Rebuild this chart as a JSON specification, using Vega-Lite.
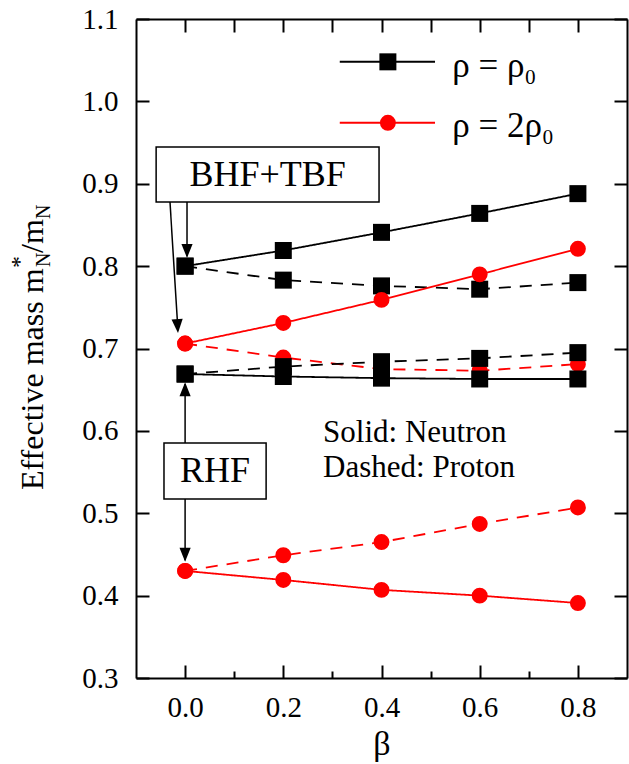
{
  "$schema": "https://vega.github.io/schema/vega-lite/v6.json",
  "width": 491,
  "height": 659,
  "autosize": "none",
  "padding": {"left": 136, "top": 19, "right": 2, "bottom": 86},
  "background": "white",
  "config": {"view": {"stroke": null}, "font": "Liberation Serif",
    "axis": {"grid": false, "tickColor": "black", "tickWidth": 2, "domainColor": "black", "domainWidth": 2, "title": null}},
  "data": {"values": [
    {"s": "BHF_rho0_n", "dens": "rho0", "part": "Neutron", "beta": 0.0, "m": 0.800},
    {"s": "BHF_rho0_n", "dens": "rho0", "part": "Neutron", "beta": 0.2, "m": 0.819},
    {"s": "BHF_rho0_n", "dens": "rho0", "part": "Neutron", "beta": 0.4, "m": 0.841},
    {"s": "BHF_rho0_n", "dens": "rho0", "part": "Neutron", "beta": 0.6, "m": 0.864},
    {"s": "BHF_rho0_n", "dens": "rho0", "part": "Neutron", "beta": 0.8, "m": 0.888},
    {"s": "BHF_rho0_p", "dens": "rho0", "part": "Proton", "beta": 0.0, "m": 0.800},
    {"s": "BHF_rho0_p", "dens": "rho0", "part": "Proton", "beta": 0.2, "m": 0.783},
    {"s": "BHF_rho0_p", "dens": "rho0", "part": "Proton", "beta": 0.4, "m": 0.776},
    {"s": "BHF_rho0_p", "dens": "rho0", "part": "Proton", "beta": 0.6, "m": 0.772},
    {"s": "BHF_rho0_p", "dens": "rho0", "part": "Proton", "beta": 0.8, "m": 0.780},
    {"s": "BHF_2rho0_n", "dens": "2rho0", "part": "Neutron", "beta": 0.0, "m": 0.706},
    {"s": "BHF_2rho0_n", "dens": "2rho0", "part": "Neutron", "beta": 0.2, "m": 0.731},
    {"s": "BHF_2rho0_n", "dens": "2rho0", "part": "Neutron", "beta": 0.4, "m": 0.759},
    {"s": "BHF_2rho0_n", "dens": "2rho0", "part": "Neutron", "beta": 0.6, "m": 0.790},
    {"s": "BHF_2rho0_n", "dens": "2rho0", "part": "Neutron", "beta": 0.8, "m": 0.821},
    {"s": "BHF_2rho0_p", "dens": "2rho0", "part": "Proton", "beta": 0.0, "m": 0.706},
    {"s": "BHF_2rho0_p", "dens": "2rho0", "part": "Proton", "beta": 0.2, "m": 0.689},
    {"s": "BHF_2rho0_p", "dens": "2rho0", "part": "Proton", "beta": 0.4, "m": 0.675},
    {"s": "BHF_2rho0_p", "dens": "2rho0", "part": "Proton", "beta": 0.6, "m": 0.673},
    {"s": "BHF_2rho0_p", "dens": "2rho0", "part": "Proton", "beta": 0.8, "m": 0.681},
    {"s": "RHF_rho0_n", "dens": "rho0", "part": "Neutron", "beta": 0.0, "m": 0.669},
    {"s": "RHF_rho0_n", "dens": "rho0", "part": "Neutron", "beta": 0.2, "m": 0.666},
    {"s": "RHF_rho0_n", "dens": "rho0", "part": "Neutron", "beta": 0.4, "m": 0.664},
    {"s": "RHF_rho0_n", "dens": "rho0", "part": "Neutron", "beta": 0.6, "m": 0.663},
    {"s": "RHF_rho0_n", "dens": "rho0", "part": "Neutron", "beta": 0.8, "m": 0.663},
    {"s": "RHF_rho0_p", "dens": "rho0", "part": "Proton", "beta": 0.0, "m": 0.669},
    {"s": "RHF_rho0_p", "dens": "rho0", "part": "Proton", "beta": 0.2, "m": 0.678},
    {"s": "RHF_rho0_p", "dens": "rho0", "part": "Proton", "beta": 0.4, "m": 0.684},
    {"s": "RHF_rho0_p", "dens": "rho0", "part": "Proton", "beta": 0.6, "m": 0.688},
    {"s": "RHF_rho0_p", "dens": "rho0", "part": "Proton", "beta": 0.8, "m": 0.695},
    {"s": "RHF_2rho0_n", "dens": "2rho0", "part": "Neutron", "beta": 0.0, "m": 0.430},
    {"s": "RHF_2rho0_n", "dens": "2rho0", "part": "Neutron", "beta": 0.2, "m": 0.419},
    {"s": "RHF_2rho0_n", "dens": "2rho0", "part": "Neutron", "beta": 0.4, "m": 0.407},
    {"s": "RHF_2rho0_n", "dens": "2rho0", "part": "Neutron", "beta": 0.6, "m": 0.400},
    {"s": "RHF_2rho0_n", "dens": "2rho0", "part": "Neutron", "beta": 0.8, "m": 0.391},
    {"s": "RHF_2rho0_p", "dens": "2rho0", "part": "Proton", "beta": 0.0, "m": 0.430},
    {"s": "RHF_2rho0_p", "dens": "2rho0", "part": "Proton", "beta": 0.2, "m": 0.449},
    {"s": "RHF_2rho0_p", "dens": "2rho0", "part": "Proton", "beta": 0.4, "m": 0.465},
    {"s": "RHF_2rho0_p", "dens": "2rho0", "part": "Proton", "beta": 0.6, "m": 0.487},
    {"s": "RHF_2rho0_p", "dens": "2rho0", "part": "Proton", "beta": 0.8, "m": 0.507}
  ]},
  "resolve": {"axis": {"x": "independent", "y": "independent"}},
  "layer": [
    {
      "mark": {"type": "line", "strokeWidth": 1.8},
      "encoding": {
        "x": {"field": "beta", "type": "quantitative",
          "scale": {"domain": [-0.1, 0.9], "nice": false, "zero": false},
          "axis": {"orient": "bottom", "values": [0, 0.2, 0.4, 0.6, 0.8], "format": ".1f", "tickSize": -13,
            "labelPadding": 28, "labelFont": "Liberation Serif", "labelFontSize": 29, "labelColor": "black",
            "title": "β", "titleFont": "Liberation Serif", "titleFontSize": 34, "titleFontWeight": "normal",
            "titleColor": "black", "titlePadding": 5}},
        "y": {"field": "m", "type": "quantitative",
          "scale": {"domain": [0.3, 1.1], "nice": false, "zero": false},
          "axis": {"orient": "left", "values": [0.3, 0.4, 0.5, 0.6, 0.7, 0.8, 0.9, 1.0, 1.1], "format": ".1f", "tickSize": -13,
            "labelPadding": 31, "labelFont": "Liberation Serif", "labelFontSize": 29, "labelColor": "black"}},
        "color": {"field": "dens", "type": "nominal", "scale": {"domain": ["rho0", "2rho0"], "range": ["black", "#ff0000"]}, "legend": null},
        "strokeDash": {"field": "part", "type": "nominal", "scale": {"domain": ["Neutron", "Proton"], "range": [[1, 0], [12, 9]]}, "legend": null},
        "detail": {"field": "s"}
      }
    },
    {
      "mark": {"type": "point", "filled": true, "opacity": 1},
      "encoding": {
        "x": {"field": "beta", "type": "quantitative",
          "axis": {"orient": "top", "values": [0, 0.1, 0.2, 0.3, 0.4, 0.5, 0.6, 0.7, 0.8], "tickSize": -13, "labels": false}},
        "y": {"field": "m", "type": "quantitative",
          "axis": {"orient": "right", "values": [0.3, 0.4, 0.5, 0.6, 0.7, 0.8, 0.9, 1.0, 1.1], "tickSize": -13, "labels": false}},
        "color": {"field": "dens", "type": "nominal", "legend": null},
        "shape": {"field": "dens", "type": "nominal", "scale": {"domain": ["rho0", "2rho0"], "range": ["square", "circle"]}, "legend": null},
        "size": {"field": "dens", "type": "nominal", "scale": {"domain": ["rho0", "2rho0"], "range": [289, 254]}, "legend": null}
      }
    },
    {
      "data": {"values": [{}]},
      "mark": {"type": "rule", "color": "black", "strokeWidth": 2},
      "encoding": {
        "x": {"datum": 0.315, "type": "quantitative",
          "axis": {"orient": "bottom", "offset": -7, "tickSize": 7, "values": [0.1, 0.3, 0.5, 0.7], "domain": false, "labels": false}},
        "x2": {"datum": 0.509},
        "y": {"datum": 1.048, "type": "quantitative", "axis": null}}
    },
    {
      "data": {"values": [{}]},
      "mark": {"type": "rule", "color": "#ff0000", "strokeWidth": 2},
      "encoding": {"x": {"datum": 0.315, "type": "quantitative", "axis": null}, "x2": {"datum": 0.509}, "y": {"datum": 0.974, "type": "quantitative", "axis": null}}
    },
    {
      "data": {"values": [{}]},
      "mark": {"type": "point", "shape": "square", "filled": true, "opacity": 1, "color": "black", "size": 289},
      "encoding": {"x": {"datum": 0.413, "type": "quantitative", "axis": null}, "y": {"datum": 1.048, "type": "quantitative", "axis": null}}
    },
    {
      "data": {"values": [{}]},
      "mark": {"type": "point", "shape": "circle", "filled": true, "opacity": 1, "color": "#ff0000", "size": 254},
      "encoding": {"x": {"datum": 0.413, "type": "quantitative", "axis": null}, "y": {"datum": 0.974, "type": "quantitative", "axis": null}}
    },
    {
      "data": {"values": [{}]},
      "mark": {"type": "text", "text": "ρ = ρ₀", "align": "left", "baseline": "alphabetic", "font": "Liberation Serif", "fontSize": 35, "color": "black"},
      "encoding": {"x": {"datum": 0.544, "type": "quantitative", "axis": null}, "y": {"datum": 1.0296, "type": "quantitative", "axis": null}}
    },
    {
      "data": {"values": [{}]},
      "mark": {"type": "text", "text": "ρ = 2ρ₀", "align": "left", "baseline": "alphabetic", "font": "Liberation Serif", "fontSize": 35, "color": "black"},
      "encoding": {"x": {"datum": 0.544, "type": "quantitative", "axis": null}, "y": {"datum": 0.957, "type": "quantitative", "axis": null}}
    },
    {
      "data": {"values": [{}]},
      "mark": {"type": "rect", "fill": "white", "stroke": "black", "strokeWidth": 1.5},
      "encoding": {"x": {"datum": -0.059, "type": "quantitative", "axis": null}, "x2": {"datum": 0.395}, "y": {"datum": 0.9446, "type": "quantitative", "axis": null}, "y2": {"datum": 0.8778}}
    },
    {
      "data": {"values": [{}]},
      "mark": {"type": "text", "text": "BHF+TBF", "align": "center", "baseline": "middle", "font": "Liberation Serif", "fontSize": 36, "color": "black"},
      "encoding": {"x": {"datum": 0.168, "type": "quantitative", "axis": null}, "y": {"datum": 0.911, "type": "quantitative", "axis": null}}
    },
    {
      "data": {"values": [{}]},
      "mark": {"type": "rect", "fill": "white", "stroke": "black", "strokeWidth": 1.5},
      "encoding": {"x": {"datum": -0.043, "type": "quantitative", "axis": null}, "x2": {"datum": 0.165}, "y": {"datum": 0.5853, "type": "quantitative", "axis": null}, "y2": {"datum": 0.5173}}
    },
    {
      "data": {"values": [{}]},
      "mark": {"type": "text", "text": "RHF", "align": "center", "baseline": "middle", "font": "Liberation Serif", "fontSize": 36, "color": "black"},
      "encoding": {"x": {"datum": 0.061, "type": "quantitative", "axis": null}, "y": {"datum": 0.5513, "type": "quantitative", "axis": null}}
    },
    {
      "data": {"values": [{}]},
      "mark": {"type": "rule", "color": "black", "strokeWidth": 1.5},
      "encoding": {"x": {"datum": -0.0308, "type": "quantitative", "axis": null}, "x2": {"datum": -0.0145}, "y": {"datum": 0.8778, "type": "quantitative", "axis": null}, "y2": {"datum": 0.722}}
    },
    {
      "data": {"values": [{}]},
      "mark": {"type": "point", "shape": "M-0.4,-1L0.4,-1L0,0Z", "filled": true, "opacity": 1, "color": "black", "size": 784, "angle": -3.5},
      "encoding": {"x": {"datum": -0.0145, "type": "quantitative", "axis": null}, "y": {"datum": 0.7188, "type": "quantitative", "axis": null}}
    },
    {
      "data": {"values": [{}]},
      "mark": {"type": "rule", "color": "black", "strokeWidth": 1.5},
      "encoding": {"x": {"datum": 0.0039, "type": "quantitative", "axis": null}, "y": {"datum": 0.8778, "type": "quantitative", "axis": null}, "y2": {"datum": 0.812}}
    },
    {
      "data": {"values": [{}]},
      "mark": {"type": "point", "shape": "M-0.4,-1L0.4,-1L0,0Z", "filled": true, "opacity": 1, "color": "black", "size": 784},
      "encoding": {"x": {"datum": 0.0039, "type": "quantitative", "axis": null}, "y": {"datum": 0.810, "type": "quantitative", "axis": null}}
    },
    {
      "data": {"values": [{}]},
      "mark": {"type": "rule", "color": "black", "strokeWidth": 1.5},
      "encoding": {"x": {"datum": 0.0, "type": "quantitative", "axis": null}, "y": {"datum": 0.5853, "type": "quantitative", "axis": null}, "y2": {"datum": 0.657}}
    },
    {
      "data": {"values": [{}]},
      "mark": {"type": "point", "shape": "M-0.4,1L0.4,1L0,0Z", "filled": true, "opacity": 1, "color": "black", "size": 784},
      "encoding": {"x": {"datum": 0.0, "type": "quantitative", "axis": null}, "y": {"datum": 0.659, "type": "quantitative", "axis": null}}
    },
    {
      "data": {"values": [{}]},
      "mark": {"type": "rule", "color": "black", "strokeWidth": 1.5},
      "encoding": {"x": {"datum": 0.0, "type": "quantitative", "axis": null}, "y": {"datum": 0.5173, "type": "quantitative", "axis": null}, "y2": {"datum": 0.443}}
    },
    {
      "data": {"values": [{}]},
      "mark": {"type": "point", "shape": "M-0.4,-1L0.4,-1L0,0Z", "filled": true, "opacity": 1, "color": "black", "size": 784},
      "encoding": {"x": {"datum": 0.0, "type": "quantitative", "axis": null}, "y": {"datum": 0.441, "type": "quantitative", "axis": null}}
    },
    {
      "data": {"values": [{}]},
      "mark": {"type": "text", "text": "Solid: Neutron", "align": "left", "baseline": "alphabetic", "font": "Liberation Serif", "fontSize": 31, "color": "black"},
      "encoding": {"x": {"datum": 0.281, "type": "quantitative", "axis": null}, "y": {"datum": 0.5865, "type": "quantitative", "axis": null}}
    },
    {
      "data": {"values": [{}]},
      "mark": {"type": "text", "text": "Dashed: Proton", "align": "left", "baseline": "alphabetic", "font": "Liberation Serif", "fontSize": 31, "color": "black"},
      "encoding": {"x": {"datum": 0.281, "type": "quantitative", "axis": null}, "y": {"datum": 0.544, "type": "quantitative", "axis": null}}
    },
    {
      "data": {"values": [{}]},
      "mark": {"type": "text", "text": "Effective mass m", "angle": 270, "align": "left", "baseline": "alphabetic", "font": "Liberation Serif", "fontSize": 32, "color": "black"},
      "encoding": {"x": {"datum": -0.289, "type": "quantitative", "axis": null}, "y": {"datum": 0.5282, "type": "quantitative", "axis": null}}
    },
    {
      "data": {"values": [{}]},
      "mark": {"type": "text", "text": "*", "angle": 270, "align": "left", "baseline": "alphabetic", "font": "Liberation Serif", "fontSize": 24, "color": "black"},
      "encoding": {"x": {"datum": -0.322, "type": "quantitative", "axis": null}, "y": {"datum": 0.7977, "type": "quantitative", "axis": null}}
    },
    {
      "data": {"values": [{}]},
      "mark": {"type": "text", "text": "N", "angle": 270, "align": "left", "baseline": "alphabetic", "font": "Liberation Serif", "fontSize": 20, "color": "black"},
      "encoding": {"x": {"datum": -0.275, "type": "quantitative", "axis": null}, "y": {"datum": 0.7989, "type": "quantitative", "axis": null}}
    },
    {
      "data": {"values": [{}]},
      "mark": {"type": "text", "text": "/m", "angle": 270, "align": "left", "baseline": "alphabetic", "font": "Liberation Serif", "fontSize": 32, "color": "black"},
      "encoding": {"x": {"datum": -0.289, "type": "quantitative", "axis": null}, "y": {"datum": 0.816, "type": "quantitative", "axis": null}}
    },
    {
      "data": {"values": [{}]},
      "mark": {"type": "text", "text": "N", "angle": 270, "align": "left", "baseline": "alphabetic", "font": "Liberation Serif", "fontSize": 20, "color": "black"},
      "encoding": {"x": {"datum": -0.275, "type": "quantitative", "axis": null}, "y": {"datum": 0.8572, "type": "quantitative", "axis": null}}
    }
  ]
}
